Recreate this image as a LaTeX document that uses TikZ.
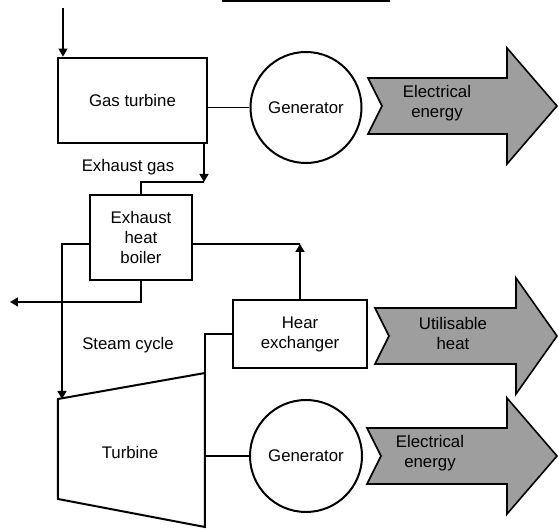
\documentclass[tikz,border=0pt]{standalone}
\usepackage{fontspec}
\setmainfont{Liberation Sans}
\usetikzlibrary{arrows.meta}
\begin{document}
\begin{tikzpicture}[line join=miter, >={Triangle[length=4pt,width=4.5pt]}, x=0.5pt, y=-0.5pt,
  font=\fontsize{8.4}{10}\selectfont,
  box/.style={draw, line width=1.4pt, align=center, inner sep=0pt},
  gen/.style={draw, circle, line width=1pt, minimum size=#1, inner sep=0pt},
  flow/.style={line width=0.65pt},
  bigarrow/.style={draw, line width=0.8pt, fill=black!38}]
\useasboundingbox (0,0) rectangle (559,529);
\draw[flow] (222,1)--(390,1);
\coordinate (in) at (63,8);
\coordinate (exh) at (204,182);
\coordinate (stm) at (62,244);
\coordinate (out) at (10,302);
\node[box, minimum width=74.5pt, minimum height=42.5pt] (gasturb) at (132.5,100.5) {Gas turbine};
\node[gen=55.5pt] (gen1) at (306,107.5) {Generator};
\node[box, minimum width=51pt, minimum height=42.5pt] (boiler) at (141,237.5) {Exhaust\\heat\\boiler};
\node[box, minimum width=67pt, minimum height=34pt] (hx) at (300,334) {Hear\\exchanger};
\node[gen=56pt] (gen2) at (306,456) {Generator};
\draw[line width=1pt] (58,399) coordinate (turbTL) -- (205,373) coordinate (turbTR) -- (205,527) coordinate (turbBR) -- (58,499) coordinate (turbBL) -- cycle;
\node (turb) at (130,452) {Turbine};
\node (exhgas) at (128,167) {Exhaust gas};
\node (steam) at (128,345) {Steam cycle};
% flows
\draw[flow,->] (in) -- (in |- gasturb.north);
\draw[flow] (gasturb.east |- gen1) -- (gen1.west);
\draw[flow,->] (exh |- gasturb.south) -- (exh);
\draw[flow] (exh) -- (exh -| boiler.north) -- (boiler.north);
\draw[flow,->] (boiler.west |- stm) -- (stm) -- (stm |- turbTL);
\draw[flow] (boiler.east |- stm) -- (hx.north |- stm);
\draw[flow,->] (hx.north) -- (hx.north |- stm);
\draw[flow,->] (boiler.south) -- (boiler.south |- out) -- (out);
\draw[flow] (hx.west) -- (hx.west -| turbTR) -- (turbTR);
\draw[flow] (turbTR |- gen2) -- (gen2.west);
% energy arrows
\foreach \cy/\xl/\xh/\xt/\lab [count=\i] in {106/368/507/437/{Electrical\\energy}, 336/375/516/453/{Utilisable\\heat}, 456/367/507/430/{Electrical\\energy}}{
  \draw[bigarrow] (\xl,\cy-28) -- (\xh,\cy-28) -- (\xh,\cy-58) -- (557,\cy) -- (\xh,\cy+58) -- (\xh,\cy+28) -- (\xl,\cy+28) -- (\xl+14,\cy) -- cycle;
  \node[align=center] (energy\i) at (\xt,\cy-3) {\lab};
}
\end{tikzpicture}
\end{document}
